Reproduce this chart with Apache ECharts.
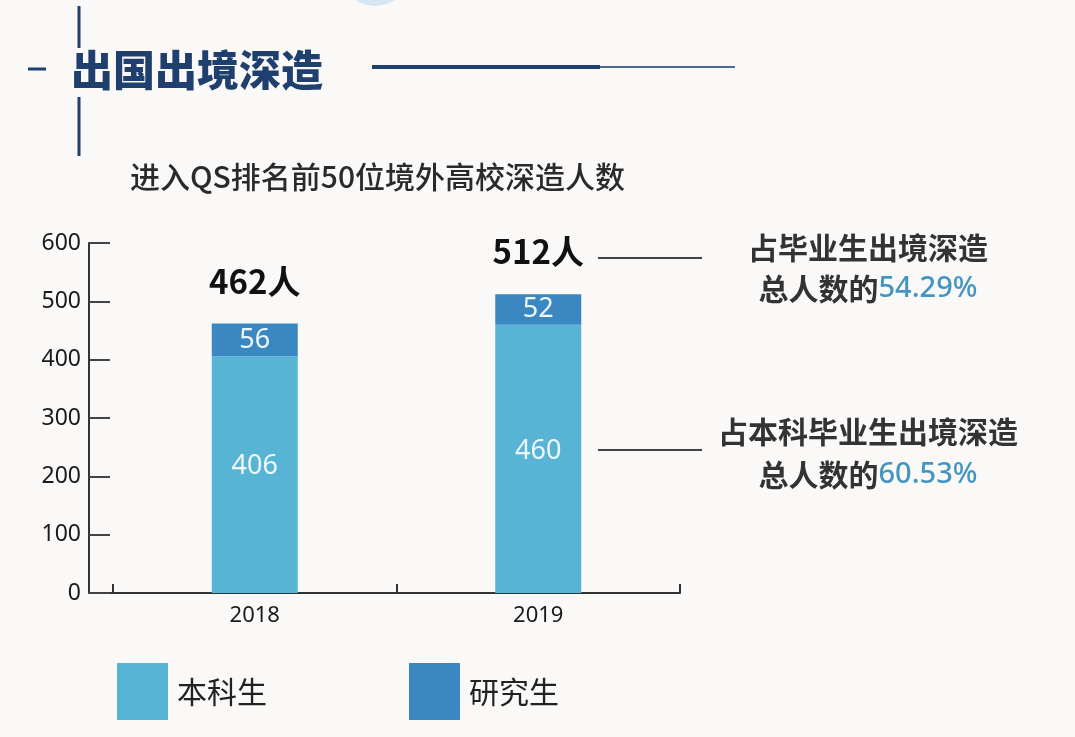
<!DOCTYPE html>
<html>
<head>
<meta charset="utf-8">
<script src="https://cdn.jsdelivr.net/npm/echarts@6/dist/echarts.min.js"></script>
<style>
  html, body { margin: 0; padding: 0; background: #fbf9f7; }
  #main { width: 1075px; height: 737px; }
</style>
</head>
<body>
<div id="main"></div>
<script>
var years = ['2018', '2019'];
var undergrad = [406, 460];
var postgrad = [56, 52];
var totals = [462, 512];
var yTicks = [0, 100, 200, 300, 400, 500, 600];
var noteTop = ['占毕业生出境深造', '总人数的', '54.29%'];
var noteBottom = ['占本科毕业生出境深造', '总人数的', '60.53%'];

var lightBlue = '#57b4d5';
var darkBlue = '#3a87c1';
var navy = '#1f3f6e';
var cjk = '"Noto Sans CJK SC", "Noto Sans", sans-serif';

var myChart = echarts.init(document.getElementById('main'));

option = {
  backgroundColor: '#fbf9f7',
  animation: false,
  title: [
    {
      text: '出国出境深造',
      left: 71, top: 49,
      padding: 0,
      textStyle: { fontFamily: cjk, fontSize: 42, fontWeight: 900, color: navy }
    },
    {
      text: '进入QS排名前50位境外高校深造人数',
      left: 130, top: 162,
      padding: 0,
      textStyle: { fontFamily: cjk, fontSize: 30, fontWeight: 500, color: '#2a2a2a' }
    }
  ],
  legend: {
    data: ['本科生', '研究生'],
    left: 117, top: 663,
    padding: 0,
    itemWidth: 51, itemHeight: 57,
    itemGap: 142,
    icon: 'rect',
    textStyle: { fontFamily: cjk, fontSize: 30, color: '#222', padding: [0, 0, 0, 4] }
  },
  grid: { left: 113, right: 1075 - 680, top: 243, bottom: 737 - 593 },
  xAxis: {
    type: 'category',
    data: years,
    axisLine: { lineStyle: { color: '#333', width: 2 } },
    axisTick: { show: true, inside: true, length: 9, lineStyle: { color: '#333', width: 2 } },
    axisLabel: { fontFamily: '"Noto Sans", sans-serif', fontSize: 22, color: '#1a1a1a', margin: 12 }
  },
  yAxis: {
    type: 'value',
    min: yTicks[0], max: yTicks[yTicks.length - 1], interval: 100,
    offset: 24,
    axisLine: { show: true, lineStyle: { color: '#333', width: 2 } },
    axisTick: { show: true, inside: true, length: 21, lineStyle: { color: '#444', width: 2 } },
    splitLine: { show: false },
    axisLabel: { fontFamily: '"Noto Sans", sans-serif', fontSize: 23, color: '#1a1a1a', margin: 8 }
  },
  series: [
    {
      name: '本科生', type: 'bar', stack: 'all', data: undergrad,
      barWidth: 86,
      itemStyle: { color: lightBlue },
      label: { show: true, position: 'inside', offset: [0, -8], fontFamily: '"Noto Sans", sans-serif', fontSize: 27, color: '#eef7fb' }
    },
    {
      name: '研究生', type: 'bar', stack: 'all', data: postgrad,
      barWidth: 86,
      itemStyle: { color: darkBlue },
      label: { show: true, position: 'inside', fontFamily: '"Noto Sans", sans-serif', fontSize: 27, color: '#eef7fb' }
    },
    {
      name: '合计', type: 'bar', stack: 'all', data: totals.map(function () { return 0; }),
      barWidth: 86,
      itemStyle: { color: 'transparent' },
      label: {
        show: true, position: 'top', distance: 26,
        formatter: function (p) { return totals[p.dataIndex] + '人'; },
        fontFamily: cjk, fontSize: 33, fontWeight: 'bold', color: '#111'
      }
    }
  ],
  graphic: [
    // header decorations
    { type: 'line', shape: { x1: 79, y1: 6, x2: 79, y2: 48 }, style: { stroke: navy, lineWidth: 3 } },
    { type: 'line', shape: { x1: 79, y1: 97, x2: 79, y2: 156 }, style: { stroke: navy, lineWidth: 3 } },
    { type: 'line', shape: { x1: 28, y1: 69, x2: 46, y2: 69 }, style: { stroke: navy, lineWidth: 3 } },
    { type: 'line', shape: { x1: 372, y1: 67, x2: 600, y2: 67 }, style: { stroke: navy, lineWidth: 4 } },
    { type: 'line', shape: { x1: 600, y1: 67, x2: 735, y2: 67 }, style: { stroke: '#4a6a95', lineWidth: 2 } },
    { type: 'circle', shape: { cx: 375, cy: -30, r: 36 }, style: { fill: '#d6e7f3' } },
    // annotation leaders
    { type: 'line', shape: { x1: 598, y1: 258, x2: 702, y2: 258 }, style: { stroke: '#444', lineWidth: 2 } },
    { type: 'line', shape: { x1: 598, y1: 450, x2: 702, y2: 450 }, style: { stroke: '#444', lineWidth: 2 } },
    {
      type: 'text', x: 868, y: 248,
      style: { text: noteTop[0], align: 'center', verticalAlign: 'middle', font: 'bold 30px ' + cjk, fill: '#333' }
    },
    {
      type: 'text', x: 868, y: 289,
      style: {
        text: '{a|' + noteTop[1] + '}{b|' + noteTop[2] + '}',
        align: 'center', verticalAlign: 'middle',
        rich: {
          a: { font: 'bold 30px ' + cjk, fill: '#333' },
          b: { font: '500 29px "Noto Sans", sans-serif', fill: '#4496c0' }
        }
      }
    },
    {
      type: 'text', x: 868, y: 432,
      style: { text: noteBottom[0], align: 'center', verticalAlign: 'middle', font: 'bold 30px ' + cjk, fill: '#333' }
    },
    {
      type: 'text', x: 868, y: 475,
      style: {
        text: '{a|' + noteBottom[1] + '}{b|' + noteBottom[2] + '}',
        align: 'center', verticalAlign: 'middle',
        rich: {
          a: { font: 'bold 30px ' + cjk, fill: '#333' },
          b: { font: '500 29px "Noto Sans", sans-serif', fill: '#4496c0' }
        }
      }
    }
  ]
};
myChart.setOption(option);

// extend the x axis line back to the offset y axis
var origin = myChart.convertToPixel({ gridIndex: 0 }, [0, 0]);
var gridLeft = myChart.getModel().getComponent('grid').coordinateSystem.getRect().x;
option.graphic.push({ type: 'line', shape: { x1: gridLeft - 24, y1: origin[1], x2: gridLeft, y2: origin[1] }, style: { stroke: '#333', lineWidth: 2 } });
myChart.setOption({ graphic: option.graphic });
</script>
</body>
</html>
